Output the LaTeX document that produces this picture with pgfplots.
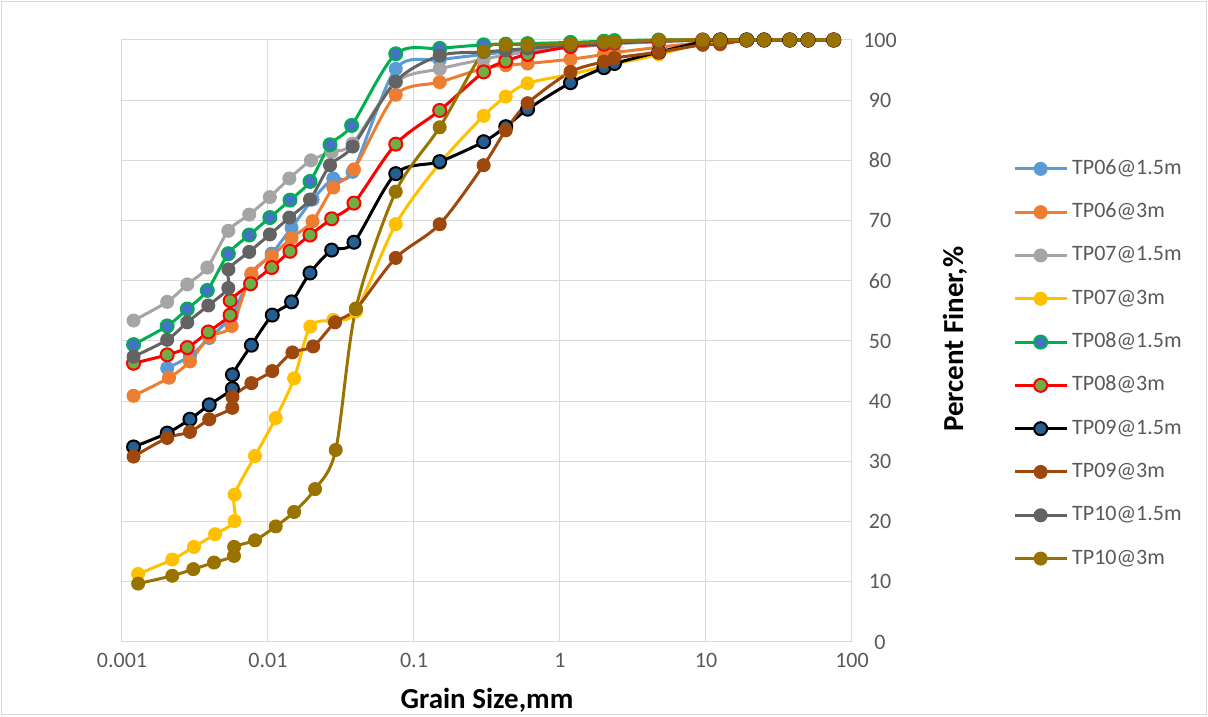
\documentclass[border=0pt]{standalone}
\usepackage{pgfplots}
\pgfplotsset{compat=1.18}
\usepackage{fontspec}
\setmainfont{Carlito}
\definecolor{gridc}{RGB}{217,217,217}
\definecolor{tickc}{RGB}{89,89,89}
\definecolor{cA}{RGB}{91,155,213}
\definecolor{cB}{RGB}{237,125,49}
\definecolor{cC}{RGB}{165,165,165}
\definecolor{cD}{RGB}{255,192,0}
\definecolor{cE}{RGB}{0,176,80}
\definecolor{cEf}{RGB}{68,114,196}
\definecolor{cF}{RGB}{255,0,0}
\definecolor{cFf}{RGB}{112,173,71}
\definecolor{cG}{RGB}{0,0,0}
\definecolor{cGf}{RGB}{37,94,145}
\definecolor{cH}{RGB}{158,72,14}
\definecolor{cI}{RGB}{99,99,99}
\definecolor{cJ}{RGB}{153,115,0}
\begin{document}
\begin{tikzpicture}
\useasboundingbox (0,0) rectangle (1208pt,717pt);
\draw[gridc, line width=1pt] (1.5pt,2pt) rectangle (1206pt,715pt);
\begin{axis}[
  at={(122pt,75pt)}, anchor=south west,
  scale only axis, width=730pt, height=602pt,
  xmode=log, log basis x=10,
  xmin=0.001, xmax=100, ymin=0, ymax=100,
  xtick={0.001,0.01,0.1,1,10,100},
  xticklabels={0.001,0.01,0.1,1,10,100},
  minor xtick={},
  ytick={0,10,20,30,40,50,60,70,80,90,100},
  yticklabels={0,10,20,30,40,50,60,70,80,90,100},
  yticklabel pos=right,
  major tick length=0pt,
  grid=major,
  major grid style={draw=gridc, line width=1pt},
  axis line style={draw=gridc, line width=1pt},
  tick label style={font=\fontsize{22}{26}\selectfont, text=tickc},
  yticklabel style={anchor=center, xshift=28pt},
  xticklabel style={yshift=-8pt},
  xlabel={Grain Size,mm},
  ylabel={Percent Finer,\%},
  xlabel style={at={(axis description cs:0.5,-0.0964)}, anchor=center, font=\fontsize{29}{34}\selectfont\bfseries},
  ylabel style={at={(axis description cs:1.1411,0.503)}, anchor=center, rotate=0, font=\fontsize{29}{34}\selectfont\bfseries},
  clip=false,
  every axis plot/.append style={line width=3pt, smooth},
  legend image code/.code={\draw[mark repeat=2,mark phase=2,#1] plot coordinates {(0pt,0pt) (26pt,0pt) (52pt,0pt)};},
  legend cell align=left,
  legend style={at={(axis description cs:1.2164,0.807)}, anchor=north west, draw=none, fill=none,
    font=\fontsize{22}{26}\selectfont, text=tickc, row sep=22.3pt, column sep=4pt,
    nodes={inner sep=0pt, text height=16pt, text depth=5pt}},
]
% TP06@1.5m
\addplot[cA, mark=*, mark size=6.5pt, mark options={solid, fill=cA, draw=cA, line width=1pt}] coordinates {
(0.00204,45.5) (0.00292,47.5) (0.00396,50.5) (0.00564,54.2) (0.0077,61.0) (0.0106,64.5) (0.0145,68.8) (0.0202,73.5) (0.028,77.0) (0.038,78.1) (0.075,95.2) (0.15,96.7) (0.3,97.6) (0.425,98.0) (0.6,98.2) (1.18,98.8) (2,99.2) (2.36,99.4) (4.75,99.7) (9.5,100) (12.5,100) (19,100) (25,100) (37.5,100) (50,100) (75,100)};
\addlegendentry{TP06@1.5m}
% TP06@3m
\addplot[cB, mark=*, mark size=6.5pt, mark options={solid, fill=cB, draw=cB, line width=1pt}] coordinates {
(0.0012,40.9) (0.0021,43.9) (0.00292,46.6) (0.00396,50.7) (0.00564,52.5) (0.0077,61.2) (0.0106,64.1) (0.0145,67.1) (0.0202,69.9) (0.028,75.5) (0.0388,78.5) (0.075,90.9) (0.15,93.0) (0.3,95.3) (0.425,95.8) (0.6,96.1) (1.18,96.8) (2,97.6) (2.36,97.9) (4.75,98.8) (9.5,99.6) (12.5,100) (19,100) (25,100) (37.5,100) (50,100) (75,100)};
\addlegendentry{TP06@3m}
% TP07@1.5m
\addplot[cC, mark=*, mark size=6.5pt, mark options={solid, fill=cC, draw=cC, line width=1pt}] coordinates {
(0.0012,53.4) (0.00204,56.5) (0.0028,59.4) (0.00384,62.2) (0.00535,68.3) (0.00744,71.0) (0.0103,73.9) (0.014,77.0) (0.0197,80.0) (0.0273,81.4) (0.038,82.8) (0.075,93.0) (0.15,95.2) (0.3,96.8) (0.425,97.5) (0.6,98.0) (1.18,98.8) (2,99.3) (2.36,99.5) (4.75,99.8) (9.5,100) (12.5,100) (19,100) (25,100) (37.5,100) (50,100) (75,100)};
\addlegendentry{TP07@1.5m}
% TP07@3m
\addplot[cD, mark=*, mark size=6.5pt, mark options={solid, fill=cD, draw=cD, line width=1pt}] coordinates {
(0.00129,11.3) (0.00221,13.7) (0.00311,15.8) (0.00434,17.9) (0.0059,20.1) (0.00591,24.5) (0.00815,30.9) (0.0113,37.2) (0.0151,43.8) (0.0195,52.4) (0.028,53.5) (0.04,54.9) (0.075,69.4) (0.15,79.5) (0.3,87.4) (0.425,90.6) (0.6,92.8) (1.18,94.3) (2,95.6) (2.36,96.0) (4.75,97.6) (9.5,99.5) (12.5,99.8) (19,100) (25,100) (37.5,100) (50,100) (75,100)};
\addlegendentry{TP07@3m}
% TP08@1.5m
\addplot[cE, mark=*, mark size=6.5pt, mark options={solid, fill=cEf, draw=cE, line width=2pt}] coordinates {
(0.0012,49.4) (0.00204,52.5) (0.0028,55.3) (0.00384,58.4) (0.00535,64.5) (0.00744,67.6) (0.0103,70.5) (0.01415,73.4) (0.0194,76.5) (0.0266,82.6) (0.0374,85.8) (0.075,97.7) (0.15,98.6) (0.3,99.2) (0.425,99.3) (0.6,99.4) (1.18,99.6) (2,99.8) (2.36,99.9) (4.75,100) (9.5,100) (12.5,100) (19,100) (25,100) (37.5,100) (50,100) (75,100)};
\addlegendentry{TP08@1.5m}
% TP08@3m
\addplot[cF, mark=*, mark size=6.5pt, mark options={solid, fill=cFf, draw=cF, line width=2pt}] coordinates {
(0.0012,46.3) (0.00204,47.7) (0.0028,48.9) (0.0039,51.5) (0.0055,54.3) (0.00551,56.7) (0.0076,59.5) (0.0106,62.2) (0.01415,64.9) (0.0194,67.6) (0.0273,70.3) (0.0388,72.9) (0.075,82.7) (0.15,88.3) (0.3,94.7) (0.425,96.5) (0.6,97.6) (1.18,98.9) (2,99.3) (2.36,99.5) (4.75,99.8) (9.5,100) (12.5,100) (19,100) (25,100) (37.5,100) (50,100) (75,100)};
\addlegendentry{TP08@3m}
% TP09@1.5m
\addplot[cG, mark=*, mark size=6.5pt, mark options={solid, fill=cGf, draw=cG, line width=2pt}] coordinates {
(0.0012,32.4) (0.00204,34.7) (0.00292,37.0) (0.00396,39.4) (0.0057,42.1) (0.00571,44.4) (0.0077,49.3) (0.0107,54.3) (0.0145,56.5) (0.0194,61.3) (0.0273,65.1) (0.0388,66.4) (0.075,77.8) (0.15,79.8) (0.3,83.1) (0.425,85.6) (0.6,88.5) (1.18,92.9) (2,95.4) (2.36,96.1) (4.75,98.0) (9.5,99.7) (12.5,100) (19,100) (25,100) (37.5,100) (50,100) (75,100)};
\addlegendentry{TP09@1.5m}
% TP09@3m
\addplot[cH, mark=*, mark size=6.5pt, mark options={solid, fill=cH, draw=cH, line width=1pt}] coordinates {
(0.0012,30.8) (0.00204,33.9) (0.00292,34.9) (0.00396,37.0) (0.0057,38.9) (0.00571,40.7) (0.0077,43.0) (0.0107,45.0) (0.0147,48.1) (0.0204,49.1) (0.0288,53.1) (0.04,55.3) (0.075,63.8) (0.15,69.4) (0.3,79.2) (0.425,85.0) (0.6,89.5) (1.18,94.7) (2,96.4) (2.36,97.0) (4.75,98.0) (9.5,99.2) (12.5,99.3) (19,100) (25,100) (37.5,100) (50,100) (75,100)};
\addlegendentry{TP09@3m}
% TP10@1.5m
\addplot[cI, mark=*, mark size=6.5pt, mark options={solid, fill=cI, draw=cI, line width=1pt}] coordinates {
(0.0012,47.4) (0.00204,50.2) (0.0028,53.1) (0.0039,55.9) (0.00535,58.8) (0.00536,61.9) (0.00744,64.8) (0.0103,67.7) (0.014,70.5) (0.0194,73.5) (0.0266,79.2) (0.038,82.3) (0.075,93.1) (0.15,97.4) (0.3,98.0) (0.425,98.3) (0.6,98.6) (1.18,99.2) (2,99.5) (2.36,99.6) (4.75,99.9) (9.5,100) (12.5,100) (19,100) (25,100) (37.5,100) (50,100) (75,100)};
\addlegendentry{TP10@1.5m}
% TP10@3m
\addplot[cJ, mark=*, mark size=6.5pt, mark options={solid, fill=cJ, draw=cJ, line width=1pt}] coordinates {
(0.00129,9.7) (0.00221,11.0) (0.00308,12.1) (0.00427,13.2) (0.00585,14.3) (0.00586,15.8) (0.00815,16.9) (0.0113,19.2) (0.0151,21.6) (0.021,25.4) (0.0291,31.9) (0.04,55.4) (0.075,74.8) (0.15,85.5) (0.3,98.1) (0.425,99.2) (0.6,99.2) (1.18,99.4) (2,99.7) (2.36,99.7) (4.75,100) (9.5,100) (12.5,100) (19,100) (25,100) (37.5,100) (50,100) (75,100)};
\addlegendentry{TP10@3m}
\end{axis}
\end{tikzpicture}
\end{document}
